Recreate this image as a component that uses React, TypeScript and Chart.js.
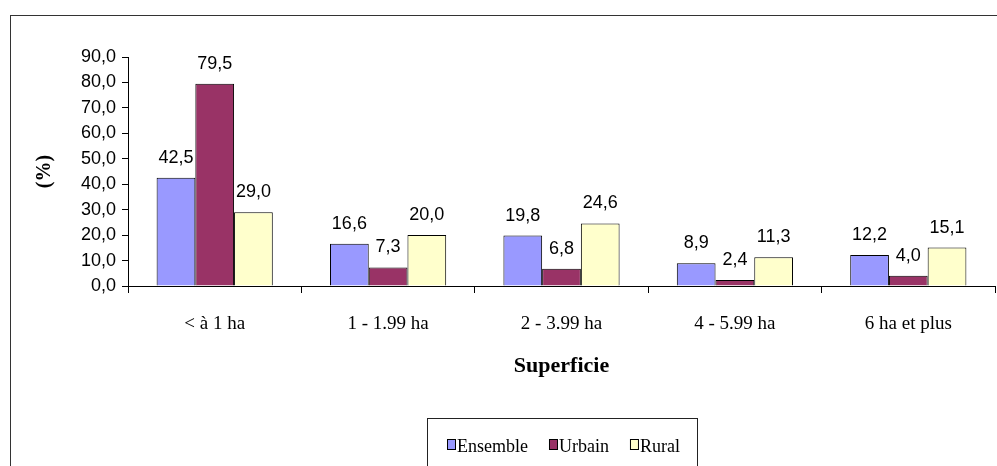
import React, { useEffect, useRef } from "react";
import { Chart, registerables } from "chart.js";

Chart.register(...registerables);

const categories = ["< à 1 ha", "1 - 1.99 ha", "2 - 3.99 ha", "4 - 5.99 ha", "6 ha et plus"];
const ensemble = [42.5, 16.6, 19.8, 8.9, 12.2];
const urbain = [79.5, 7.3, 6.8, 2.4, 4.0];
const rural = [29.0, 20.0, 24.6, 11.3, 15.1];
const seriesNames = ["Ensemble", "Urbain", "Rural"];
const seriesColors = ["#9999FF", "#993366", "#FFFFCC"];

const fmt = (v: number) => v.toFixed(1).replace(".", ",");

const framePlugin = {
  id: "frame",
  beforeDraw(chart: any) {
    const ctx = chart.ctx;
    ctx.save();
    ctx.fillStyle = "#fff";
    ctx.fillRect(0, 0, chart.width, chart.height);
    ctx.strokeStyle = "#333";
    ctx.lineWidth = 1;
    ctx.strokeRect(10.5, 15.5, 1000, 500);
    ctx.restore();
  },
};

const labelsPlugin = {
  id: "valueLabels",
  afterDatasetsDraw(chart: any) {
    const ctx = chart.ctx;
    ctx.save();
    ctx.font = "18px 'Liberation Sans', Arial, sans-serif";
    ctx.fillStyle = "#000";
    ctx.textAlign = "center";
    ctx.textBaseline = "alphabetic";
    chart.data.datasets.forEach((ds: any, i: number) => {
      const meta = chart.getDatasetMeta(i);
      meta.data.forEach((bar: any, j: number) => {
        ctx.fillText(fmt(ds.data[j]), bar.x, bar.y - 15);
      });
    });
    ctx.restore();
  },
};

const legendPlugin = {
  id: "customLegend",
  afterDraw(chart: any) {
    const ctx = chart.ctx;
    ctx.save();
    ctx.strokeStyle = "#222";
    ctx.lineWidth = 1;
    ctx.strokeRect(427.5, 418.5, 270, 80);
    ctx.font = "18px 'Liberation Serif', 'Times New Roman', serif";
    ctx.textBaseline = "alphabetic";
    ctx.textAlign = "left";
    let x = 447;
    chart.data.datasets.forEach((ds: any) => {
      ctx.fillStyle = ds.backgroundColor;
      ctx.fillRect(x + 0.5, 439.5, 8, 10);
      ctx.strokeStyle = "#000";
      ctx.strokeRect(x + 0.5, 439.5, 8, 10);
      ctx.fillStyle = "#000";
      ctx.fillText(ds.label, x + 10, 452);
      const w = ctx.measureText(ds.label).width;
      x = x + 10 + w + 21;
    });
    ctx.restore();
  },
};

export default function App() {
  const ref = useRef<HTMLCanvasElement>(null);
  useEffect(() => {
    document.body.style.margin = "0";
    document.body.style.overflow = "hidden";
    const canvas = ref.current!;
    const chart = new Chart(canvas, {
      type: "bar",
      data: {
        labels: categories,
        datasets: [ensemble, urbain, rural].map((d, i) => ({
          label: seriesNames[i],
          data: d,
          backgroundColor: seriesColors[i],
          borderColor: "#000",
          borderWidth: 1,
          borderSkipped: "bottom",
          categoryPercentage: 0.67,
          barPercentage: 1,
        })),
      },
      options: {
        responsive: false,
        animation: false,
        events: [],
        layout: { padding: { left: 0, top: 57, right: 2, bottom: 80 } },
        plugins: {
          legend: { display: false },
          tooltip: { enabled: false },
        },
        scales: {
          x: {
            grid: {
              offset: true,
              drawOnChartArea: false,
              drawTicks: true,
              tickLength: 7,
              color: "#000",
            },
            border: { color: "#000", width: 1 },
            ticks: {
              color: "#000",
              padding: 20,
              font: { family: "'Liberation Serif', 'Times New Roman', serif", size: 19 },
              maxRotation: 0,
            },
            title: {
              display: true,
              text: "Superficie",
              color: "#000",
              font: { family: "'Liberation Serif', 'Times New Roman', serif", size: 22, weight: "bold" },
              padding: { top: 0, bottom: 6 },
            },
            afterFit: (scale: any) => {
              scale.height = 100;
            },
          },
          y: {
            min: 0,
            max: 90,
            ticks: {
              stepSize: 10,
              color: "#000",
              padding: 6,
              font: { family: "'Liberation Sans', Arial, sans-serif", size: 18 },
              callback: (v: any) => fmt(Number(v)),
            },
            grid: {
              drawOnChartArea: false,
              drawTicks: true,
              tickLength: 6,
              color: "#000",
            },
            border: { color: "#000", width: 1 },
            title: {
              display: true,
              text: "(%)",
              color: "#000",
              font: { family: "'Liberation Serif', 'Times New Roman', serif", size: 20, weight: "bold" },
              padding: { top: 33, bottom: 0 },
            },
            afterFit: (scale: any) => {
              scale.width = 128;
            },
          },
        },
      },
      plugins: [framePlugin, labelsPlugin, legendPlugin],
    } as any);
    return () => chart.destroy();
  }, []);
  return <canvas ref={ref} width={997} height={466} style={{ display: "block" }} />;
}
